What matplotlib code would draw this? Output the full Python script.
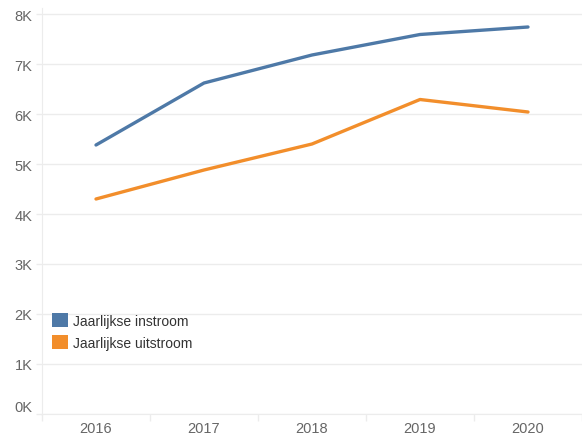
import matplotlib
matplotlib.use("Agg")
import matplotlib.pyplot as plt
from matplotlib.patches import Patch
from matplotlib.transforms import ScaledTranslation
import numpy as np

plt.rcParams['font.family'] = ['Liberation Sans', 'DejaVu Sans']

# yearly inflow / outflow counts
years = ["2016", "2017", "2018", "2019", "2020"]
instroom = [5380, 6620, 7180, 7590, 7740]
uitstroom = [4300, 4880, 5400, 6290, 6040]
y_ticks = [0, 1000, 2000, 3000, 4000, 5000, 6000, 7000, 8000]
y_tick_labels = ["0K", "1K", "2K", "3K", "4K", "5K", "6K", "7K", "8K"]

BLUE = "#4e79a7"
ORANGE = "#f28e2b"
GRID = "#ececec"
TEXT = "#666666"

fig = plt.figure(figsize=(5.82, 4.39), dpi=100)
ax = fig.add_axes([42 / 582, 24 / 439, 540 / 582, 406 / 439])

x = np.arange(len(years))
ax.plot(x, instroom, color=BLUE, lw=2.4, solid_capstyle="round", zorder=3)
ax.plot(x, uitstroom, color=ORANGE, lw=2.4, solid_capstyle="round", zorder=3)

ax.set_xlim(-0.5, len(years) - 0.5)
ax.set_ylim(0, 8120)

ax.set_yticks(y_ticks)
ax.set_yticklabels(y_tick_labels)
ax.yaxis.grid(True, color=GRID, lw=1)
ax.set_axisbelow(True)

ax.set_xticks(x)
ax.set_xticklabels(years)
ax.set_xticks(np.arange(len(years) + 1) - 0.5, minor=True)
ax.tick_params(axis="x", which="major", length=0, pad=5, labelsize=10.5, labelcolor=TEXT)
ax.tick_params(axis="x", which="minor", length=5, color=GRID, width=1)
ax.tick_params(axis="y", length=4, color=GRID, width=1, pad=3, labelsize=10.5, labelcolor=TEXT)

# lift the 0K label off the baseline
zero_label = ax.get_yticklabels()[0]
zero_label.set_transform(zero_label.get_transform() + ScaledTranslation(0, 8 / 100, fig.dpi_scale_trans))

for side in ("top", "right"):
    ax.spines[side].set_visible(False)
ax.spines["left"].set_color(GRID)
ax.spines["bottom"].set_color(GRID)

handles = [Patch(facecolor=BLUE, edgecolor="none"), Patch(facecolor=ORANGE, edgecolor="none")]
ax.legend(handles, ["Jaarlijkse instroom", "Jaarlijkse uitstroom"],
          loc="upper left", bbox_to_anchor=(0.009, 0.262), frameon=False,
          handlelength=1.15, handleheight=1.15, handletextpad=0.3, labelspacing=0.55,
          fontsize=10, labelcolor="#333333", borderaxespad=0)

fig.savefig("out.png", dpi=100)
